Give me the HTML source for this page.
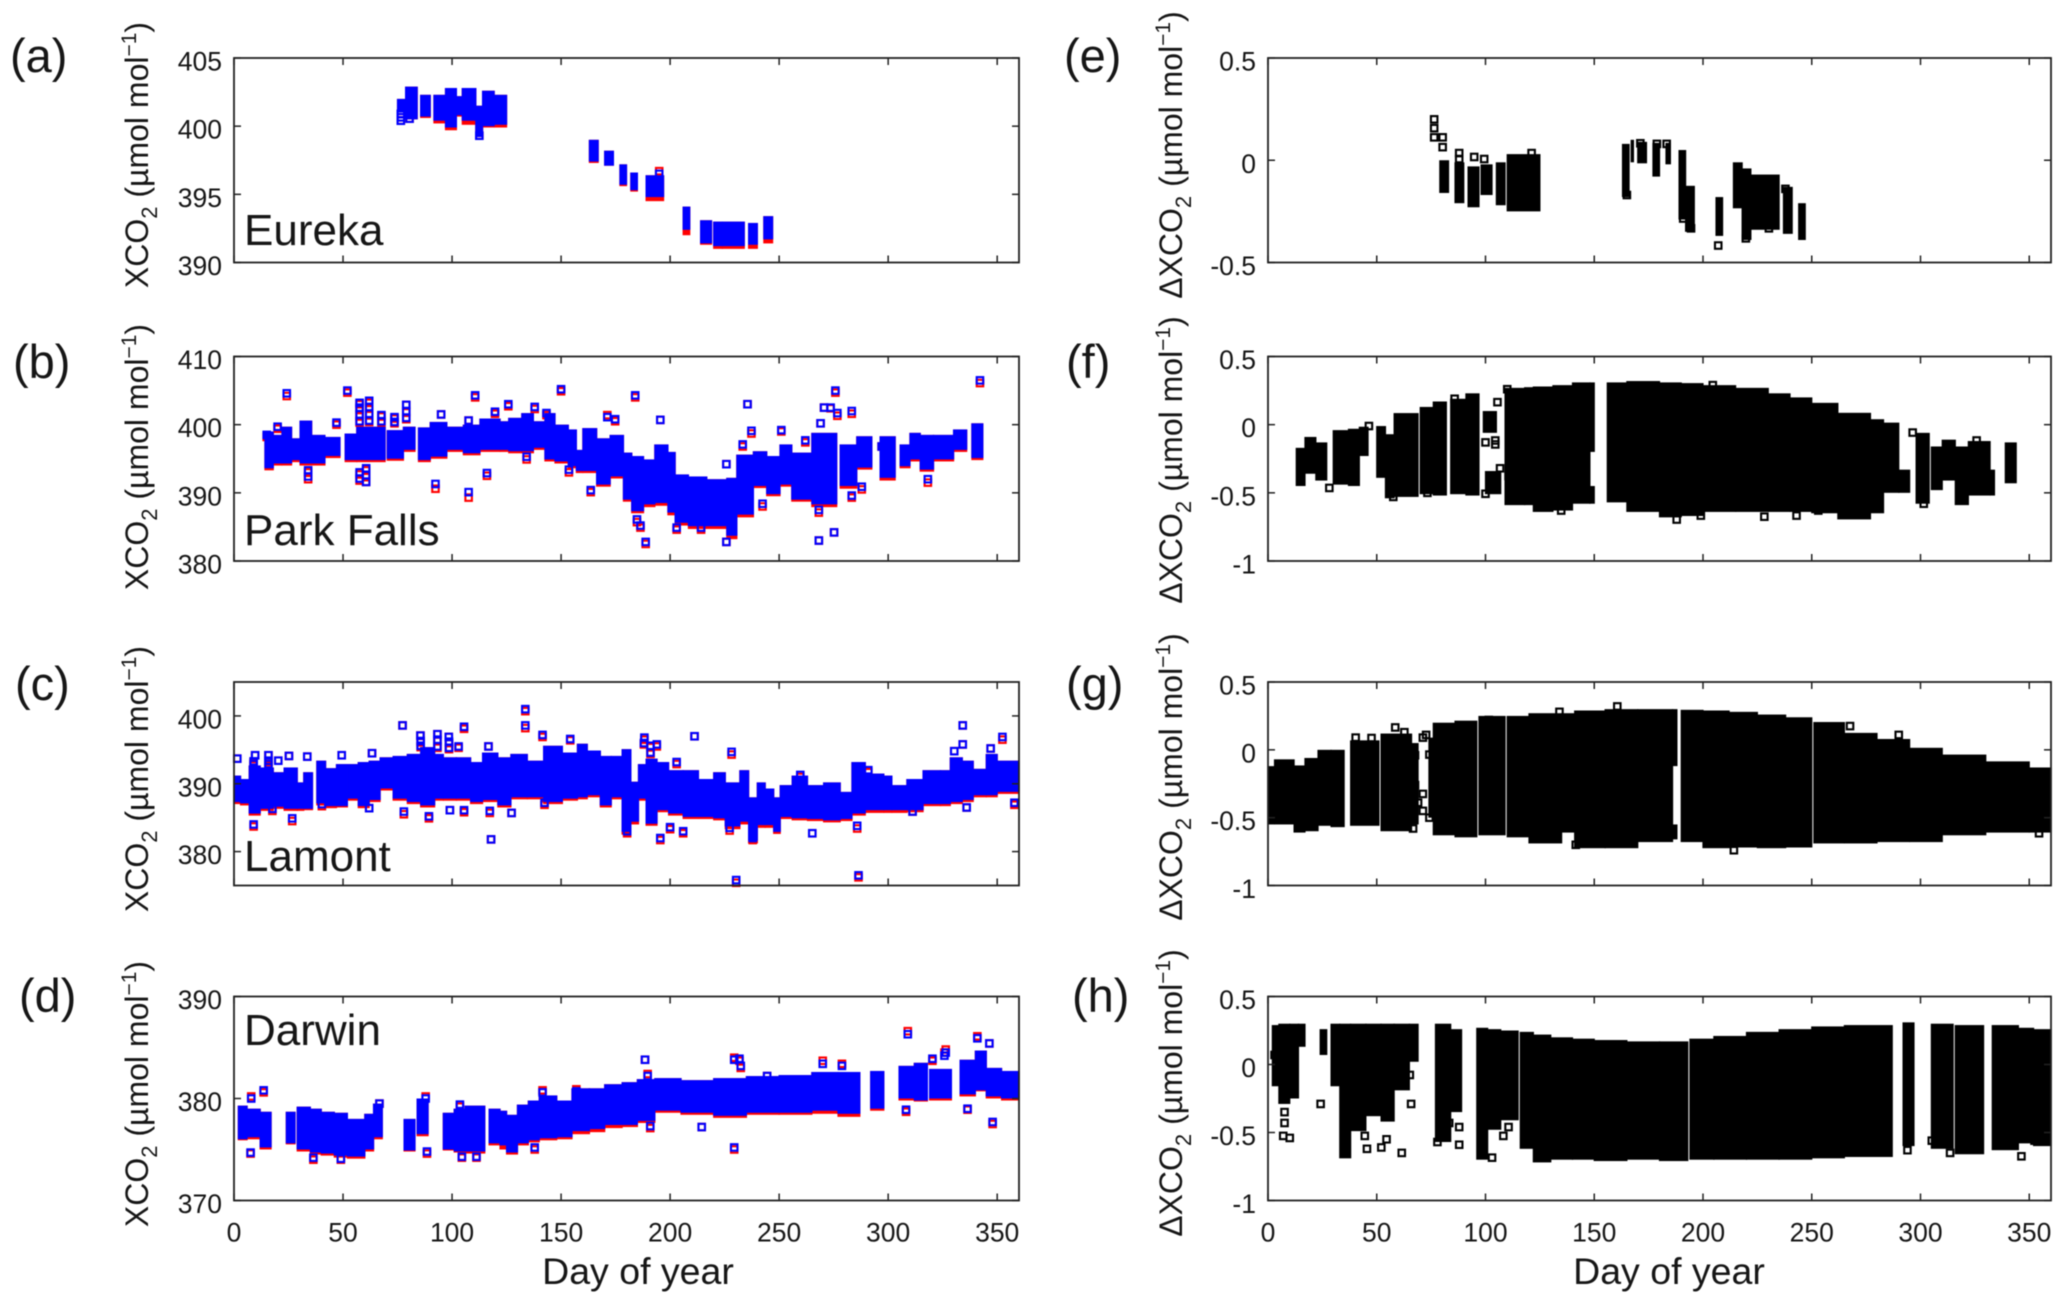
<!DOCTYPE html>
<html lang="en">
<head>
<meta charset="utf-8">
<title>XCO2 and delta XCO2 by day of year at four TCCON sites</title>
<style>
html,body{margin:0;padding:0;background:#fff;}
svg{display:block;filter:blur(0.5px);}
text{font-family:"Liberation Sans",Arial,sans-serif;fill:#161616;}
.tick{font-size:26.5px;}
.letter{font-size:47px;}
.site{font-size:44px;}
.ylab{font-size:32px;}
.xlab{font-size:37.5px;}
</style>
</head>
<body>
<svg id="fig" width="2067" height="1303" viewBox="0 0 2067 1303" xmlns="http://www.w3.org/2000/svg">
<rect x="0" y="0" width="2067" height="1303" fill="#ffffff"/>
<g id="panel-a"></g>
<g id="panel-b"></g>
<g id="panel-c"></g>
<g id="panel-d"></g>
<g id="panel-e"></g>
<g id="panel-f"></g>
<g id="panel-g"></g>
<g id="panel-h"></g>

<text class="letter" x="10" y="72">(a)</text>
<text class="letter" x="13" y="378">(b)</text>
<text class="letter" x="15" y="700">(c)</text>
<text class="letter" x="19" y="1012">(d)</text>
<text class="letter" x="1064" y="72">(e)</text>
<text class="letter" x="1066" y="378">(f)</text>
<text class="letter" x="1066" y="700">(g)</text>
<text class="letter" x="1072" y="1012">(h)</text>

<text class="site" x="244" y="245">Eureka</text>
<text class="site" x="244" y="545">Park Falls</text>
<text class="site" x="244" y="871">Lamont</text>
<text class="site" x="244" y="1045">Darwin</text>

<text class="ylab" text-anchor="middle" transform="translate(148,155) rotate(-90)">XCO<tspan dy="9" font-size="22">2</tspan><tspan dy="-9"> (µmol mol</tspan><tspan dy="-12" font-size="21">−1</tspan><tspan dy="12">)</tspan></text>
<text class="ylab" text-anchor="middle" transform="translate(148,457) rotate(-90)">XCO<tspan dy="9" font-size="22">2</tspan><tspan dy="-9"> (µmol mol</tspan><tspan dy="-12" font-size="21">−1</tspan><tspan dy="12">)</tspan></text>
<text class="ylab" text-anchor="middle" transform="translate(148,779) rotate(-90)">XCO<tspan dy="9" font-size="22">2</tspan><tspan dy="-9">  (µmol mol</tspan><tspan dy="-12" font-size="21">−1</tspan><tspan dy="12">)</tspan></text>
<text class="ylab" text-anchor="middle" transform="translate(148,1094) rotate(-90)">XCO<tspan dy="9" font-size="22">2</tspan><tspan dy="-9">  (µmol mol</tspan><tspan dy="-12" font-size="21">−1</tspan><tspan dy="12">)</tspan></text>
<text class="ylab" text-anchor="middle" transform="translate(1182,155) rotate(-90)">ΔXCO<tspan dy="9" font-size="22">2</tspan><tspan dy="-9"> (µmol mol</tspan><tspan dy="-12" font-size="21">−1</tspan><tspan dy="12">)</tspan></text>
<text class="ylab" text-anchor="middle" transform="translate(1182,460) rotate(-90)">ΔXCO<tspan dy="9" font-size="22">2</tspan><tspan dy="-9"> (µmol mol</tspan><tspan dy="-12" font-size="21">−1</tspan><tspan dy="12">)</tspan></text>
<text class="ylab" text-anchor="middle" transform="translate(1182,777) rotate(-90)">ΔXCO<tspan dy="9" font-size="22">2</tspan><tspan dy="-9">  (µmol mol</tspan><tspan dy="-12" font-size="21">−1</tspan><tspan dy="12">)</tspan></text>
<text class="ylab" text-anchor="middle" transform="translate(1182,1093) rotate(-90)">ΔXCO<tspan dy="9" font-size="22">2</tspan><tspan dy="-9">  (µmol mol</tspan><tspan dy="-12" font-size="21">−1</tspan><tspan dy="12">)</tspan></text>

<text class="xlab" text-anchor="middle" x="638" y="1284">Day of year</text>
<text class="xlab" text-anchor="middle" x="1669" y="1284">Day of year</text>
</svg>

<script>
// ---- Shared axis values ----
const dayTicks = [0, 50, 100, 150, 200, 250, 300, 350];
const ticksA = [390, 395, 400, 405];
const ticksB = [380, 390, 400, 410];
const ticksC = [380, 390, 400];
const ticksD = [370, 380, 390];
const ticksE = [-0.5, 0, 0.5];
const ticksDelta = [-1, -0.5, 0, 0.5];

// ---- (a) Eureka XCO2 ----
const aStart = [75,78.7,85.6,91.7,97,102,104.7,110.9,114,119.3,163,170,177,182,189,206,214,220,224,236,243];
const aEnd   = [78.7,84,90,97,102,104.7,110.9,114,119.3,125,167,174,180,185,197,209,219,224,234,240,247];
const aHigh  = [402,402.9,402.3,402.3,402.8,402.2,402.8,401.5,402.6,402.3,399,398.2,397.2,396.6,396.4,394.1,393.1,393,393,392.9,393.4];
const aLow   = [401,400.5,400.7,400.4,399.9,400.8,400.4,399.2,400,400.1,397.4,397.1,395.7,395.3,394.8,392.4,391.4,391.2,391.2,391.3,391.7];
const aRed   = [401,400.5,400.6,400.2,399.7,400.7,400.1,399.2,399.9,399.9,397.3,397.1,395.6,395.2,394.5,392,391.3,391,391,391,391.4];
const aOutDay = [76.5,76.5,76.5,112.5,80.5,195];
const aOutVal = [400.9,400.65,400.4,399.3,400.55,396.5];
const aOutRed = [400.9,400.65,400.4,399.3,400.55,396.7];

// ---- (b) Park Falls XCO2 ----
const bStart = [14.2,18,22,26.4,30.3,35.6,41.7,51,56.3,70.3,77.7,84.6,90,97.6,105.2,112.8,122,126,132,137.3,142.6,147.2,153.3,157,160,166.3,172.5,178.6,182.4,187.8,193,199,202.3,208.4,216.8,226,230.6,238.2,244.3,250.4,255.8,265,278,285.6,296.3,305.5,310,314.7,320.8,330,338.4];
const bEnd   = [18,22,26.4,30.3,35.6,41.7,48.6,56.3,69.3,77.7,83,90,97.6,105.2,112.8,122,126,132,137.3,142.6,147.2,153.3,157,160,166.3,172.5,178.6,182.4,187.8,193,199,202.3,208.4,216.8,226,230.6,238.2,244.3,250.4,255.8,265,276.4,285.6,292.5,303.2,310,314.7,320.8,330,336,343.4];
const bHigh  = [399,398.5,399.7,398,400.6,398.5,398.2,398.7,399.7,399.2,399.7,399.6,400.4,399.7,400,400.9,400.5,401,401.7,400.5,401.7,400,399.3,396.3,399.5,398,398.5,395.9,395.4,394.9,397.1,396,392.7,392.4,392,392.2,395.6,396.1,395.4,397.1,395.9,398.8,397.1,398.3,398.3,397.1,398.8,398.5,398.5,399.3,400.2];
const bLow   = [393.6,394.3,394.3,394.8,394.3,394.3,395.4,394.8,394.8,395,396.3,394.8,395.3,396.3,395.8,396.3,396.3,396.1,396.1,396.6,394.9,394.6,393.9,393.2,393.2,391.2,392.4,389,387.3,388.3,388.5,387.1,385.6,385.1,385.1,383.7,386.8,391,389.8,391.2,389,388.3,391,393.7,392.2,393.9,394.9,393.4,394.9,396.3,395.1];
const bRed   = [393.3,394,394,394.5,394,394,395.1,394.5,394.5,394.7,396,394.5,395,396,395.5,396,396,395.8,395.8,396.3,394.6,394.3,393.6,392.9,392.9,390.9,392.1,388.7,387,387.9,388.1,386.7,385.2,384.7,384.7,383.2,386.4,390.7,389.5,390.9,388.7,387.9,390.6,393.4,391.8,393.6,394.6,393.1,394.6,396,394.8];
const bOutDay = [24.2,52,47,20,34,60.6,92.4,95,57.6,62,79,73.6,67.6,107.6,116,110.6,107.6,119.7,125.8,137.9,150,134.2,143.3,163.6,153.6,171.2,174.8,184,195.5,235.5,237.3,251,275.8,262,270.6,273.6,283.3,276.7,269,184.8,186.4,188.8,203,214.2,225.8,268.2,275.2,268.2,242.4,283.3,287.9,297,318.2,342.1,225.8,233.3,15,57.6,57.6,57.6,62,62,62,79,79,67.6,73.6,34,57.6,57.6,60.6,60.6];
const bOutVal = [404.6,405,400.3,399.7,392.4,391.6,391.3,401.5,403.2,403.5,402.9,401.1,401.4,390.1,392.9,404.3,400.6,401.9,403,402.6,405.2,395.3,401.7,390.4,393.4,401.1,400.8,404.3,400.7,403,399.1,399.2,405,397.7,402.5,402.5,402,401.7,400.2,386.1,385.2,382.8,384.9,384.9,382.8,383,384.2,387.5,388.4,389.6,390.9,396.8,392,406.5,394.2,397.1,398.5,402.5,401.5,400.5,402.6,401.6,400.6,402,401,400.5,400.4,393.3,393,392.1,392.6,393.6];
const bOutRed = [404.2,404.7,400,399.4,392,391.6,390.6,401.5,403,403.2,402.9,400.9,401.2,389.3,392.5,404,400.6,401.6,402.7,402.3,404.9,394.9,401.4,390.1,393,401.4,400.5,404,400.7,403,398.7,399,404.7,397.4,402.5,402.4,401.6,401.3,400.2,385.7,384.9,382.5,384.6,384.6,382.8,383,384.2,387.1,388,389.3,390.5,396.8,391.5,406.1,394.2,396.8,398.2,402.3,401.2,400.3,402.4,401.4,400.4,401.8,400.8,400.3,400.2,393,392.7,391.8,392.3,393.3];

// ---- (c) Lamont XCO2 ----
const cStart = [0,3,7,12,18,23,29,32,38,42,47,52.5,57,62,67,73,79.5,85.6,92,96,102,108.5,114,121,127,134.5,142,150.6,157.5,162,168,173,178,182,185.5,189,194,199.3,206,213,220,225.3,232,236,240,243.6,247.5,250.5,256,263,270.4,278,283.4,289.5,298,301.7,308.6,316,324,328.5,334,339,345,350];
const cEnd   = [3,7,12,18,23,29,32,36,42,47,52,57,62,67,73,79.5,85.6,92,96,102,108.5,114,121,127,134.5,142,150.6,157.5,162,168,173,178,182,185.5,189,194,199.3,206,213,220,225.3,232,236,240,243.6,247.5,250.5,256,263,270.4,278,283.4,289.5,298,301.7,308.6,316,324,328.5,334,339,345,350,360];
const cHigh  = [391.2,390.7,392.7,392.4,391.7,392.4,390.2,391.7,393.4,392.3,392.9,392.9,393.2,393.4,393.9,394.1,394.4,395.4,394.4,393.9,393.9,393.2,394.6,393.9,394.4,393.4,395.6,394.6,395.9,394.9,394.1,394.1,395.1,390.3,392.9,393.7,393.2,392,392,390.7,391.7,390.2,392,388,390.2,389.3,388,389.8,391.2,389.8,390.2,388.8,393.2,391.5,391.2,389.8,390.7,392,392,393.9,393.4,392.2,394.4,393.4];
const cLow   = [387.3,387.1,385.6,386.3,386.6,386.3,386.3,386.3,387.1,386.7,386.7,387.8,386.7,387.6,389.3,387.8,387.3,386.8,387.8,387.8,387.8,387.3,387.6,386.8,388,388,387.3,387.8,388,388.3,386.8,388,382.9,384.4,387.8,384.1,386.1,385.6,385.1,385.1,384.9,383.7,384.4,381.6,383.9,383.9,382.9,385.1,384.9,384.8,384.6,384.8,385.6,386.1,386.1,386.1,386.1,387,387,387.3,387.6,388.3,388.3,388.8];
const cRed   = [387,386.8,385.3,386,386.3,386,386,386.1,386.8,386.4,386.5,387.5,386.4,387.3,389,387.5,387,386.5,387.5,387.5,387.5,387,387.3,386.5,387.7,387.7,387,387.5,387.7,388,386.5,387.7,382.5,384,387.5,383.8,385.8,385.3,384.8,384.8,384.6,383.3,384,381.2,383.5,383.5,382.6,384.8,384.6,384.5,384.3,384.5,385.3,385.7,385.7,385.7,385.8,386.7,386.7,387,387.3,388,388,388.5];
const cOutDay = [1.5,9.7,15.8,20.3,25.2,33.6,49.4,63.3,77.3,85.5,93.3,98.5,105.5,116.7,133.6,133.6,141.5,154.2,9,17.6,26.7,40.3,62,77.9,89.4,99,105.5,117.3,117.9,127.3,142.4,188.2,193.9,203,211.2,228.2,230.3,286.4,265.2,285.8,195.5,200,206,227.3,334.2,330.3,334.2,352.4,347,336,357.9,311.2,290.9,259.7,180.3,237.9,85.6,85.6,93.3,93.3,98.6,98.6,103,9,9,15.8,15.8,188,191,191];
const cOutVal = [393.7,394.2,394.2,393.4,394.1,394,394.2,394.5,398.6,397.1,397.3,396.9,398.4,395.5,401,398.6,397.2,396.6,384,386.3,384.9,387,386.4,385.9,385.2,386.1,386.1,386,381.8,385.7,387.2,396.8,395.8,393.2,397,394.7,375.8,376.5,382.7,383.8,382,383.6,383,383.5,398.6,394.8,395.8,396.9,395.2,386.5,387.2,385.9,392,391.3,383,382,396.3,395.6,396.5,395.5,396.2,395.3,395.5,392.9,393.3,392.9,393.4,396,395.6,394.6];
const cOutRed = [393.7,394.2,394.2,393.4,394.1,394,394.2,394.5,398.6,397.1,397.3,396.9,398.1,395.5,400.7,398.2,396.9,396.4,383.7,386,384.5,386.7,386.4,385.5,384.9,386.1,385.8,385.7,381.8,385.7,386.9,396.5,395.5,392.9,397,394.3,375.4,376.2,382.7,383.4,381.7,383.3,382.7,383.1,398.6,394.8,395.8,396.5,395.2,386.5,386.9,385.9,391.7,391,382.7,381.7,396.1,395.4,396.3,395.3,396,395.1,395.3,392.7,393.1,392.7,393.2,395.8,395.4,394.4];

// ---- (d) Darwin XCO2 ----
const dStart = [2,6,12,24,29,35,40,46,52,60,64,78,84,96,101,106,117,122,125,130,135,140,148,155,163,170,178,185,193,205,220,235,250,265,277,292,305,312,319,333,340,345,352];
const dEnd   = [6,12,17,28,35,40,46,52,60,64,68,83,89,101,106,115,122,125,130,135,140,148,155,163,170,178,185,193,205,220,235,250,265,277,287,298,312,318,329,340,345,352,360];
const dHigh  = [379.3,379,378.7,378.7,379.2,379,378.7,378.6,378,378.5,379.5,378,380,378.6,379,379.3,379,378.8,378.4,379.4,379.8,380.3,379.8,381,381,381.4,381.6,381.9,382,381.8,382,382.2,382.3,382.6,382.6,382.7,383.2,383.5,382.9,383.8,384.7,383,382.7];
const dLow   = [376,376.2,375.2,375.6,375,374.7,374.6,374.4,374.3,375,376.2,374.9,376.5,375,374.8,374.8,375.6,375.4,374.7,375.6,375.9,376.1,376.2,376.8,377,377.4,377.4,377.8,378.8,378.6,378.3,378.6,378.6,378.8,378.5,379,380,379.8,380,380.4,380.8,380.2,380];
const dRed   = [375.9,376,375,375.5,374.8,374.5,374.4,374.2,374.1,374.8,376,374.8,376.3,374.9,374.7,374.6,375.4,375,374.5,375.4,375.7,375.9,376,376.5,376.7,377.1,377.2,377.6,378.6,378.4,378.1,378.4,378.4,378.5,378.2,378.8,379.8,379.7,379.8,380.2,380.7,380,379.8];
const dOutDay = [7.9,13.6,7.6,36.4,49,87.9,88.5,103.6,104.5,111.2,66.7,141.5,137.9,157,188.5,189.7,190.9,229.4,214.5,229.4,231.8,232.4,270,278.8,309,308.2,326.4,325.8,340.9,346.4,347.9,336.4,320.3,166.7,244.5];
const dOutVal = [380,380.8,374.7,374.2,374.1,380,374.8,379.4,374.3,374.3,379.5,380.6,375.2,380.7,383.8,382.2,377.3,375.2,377.2,383.8,383.9,383.2,383.4,383.2,386.3,378.9,384.5,384.2,385.9,385.4,377.7,379,383.9,380.4,382.2];
const dOutRed = [380.2,380.6,374.6,374,374,380.2,374.6,379.2,374.2,374.2,379.5,380.8,375,380.9,383.8,382.4,377.1,375,377.2,384,383.7,383,383.7,383.4,386.6,378.7,384.8,384.5,386.1,385.4,377.5,378.9,383.7,380.2,382.2];

// ---- (e) Eureka delta ----
const eStart = [79,86,92,98,105,110,163,167,170,177,183,189,192,206,214,218,222,237,244];
const eEnd   = [83,90,97,103,109,125,166,168,174,180,185,192,196,209,218,222,235,241,247];
const eHigh  = [0,-0.01,-0.03,-0.02,-0.01,0.03,0.08,0.1,0.09,0.085,0.085,0.05,-0.125,-0.18,-0.01,-0.04,-0.07,-0.13,-0.21];
const eLow   = [-0.16,-0.21,-0.23,-0.17,-0.22,-0.25,-0.18,-0.01,-0.015,-0.08,-0.02,-0.29,-0.35,-0.37,-0.235,-0.39,-0.34,-0.36,-0.39];
const eOutDay = [76.4,76.4,76.4,80.3,80.3,87.9,87.9,94.8,99.4,207,219.7,225.8,121.2,230.3,237.9,171.2,178.8,183.3,165,190.9,194.5];
const eOutVal = [0.2,0.157,0.112,0.112,0.064,0.035,0.006,0.016,0.006,-0.417,-0.382,-0.304,0.035,-0.333,-0.14,0.083,0.08,0.08,-0.17,-0.285,-0.333];

// ---- (f) Park Falls delta ----
const fStart = [13,17,22,30,37,42,50,54,58,70,76,84,91,99,100,109,118,122,131,140,148,148,156,165,180,190,200,215,230,240,250,262,277,283,290,298,305,310,316,322,332,339];
const fEnd   = [17,22,27,37,42,46,54,58,69,76,82,91,97,105,107,118,122,131,140,148,150,150,165,180,190,200,215,230,240,250,262,277,283,290,295,304,310,316,322,332,334,344];
const fHigh  = [-0.17,-0.09,-0.13,-0.04,-0.03,-0.015,-0.01,-0.07,0.085,0.13,0.17,0.19,0.23,0.1,-0.34,0.27,0.275,0.28,0.29,0.31,0.31,-0.45,0.31,0.32,0.31,0.305,0.29,0.27,0.23,0.2,0.16,0.087,0.04,0.015,-0.33,-0.06,-0.16,-0.11,-0.16,-0.12,-0.33,-0.13];
const fLow   = [-0.45,-0.36,-0.41,-0.44,-0.45,-0.23,-0.39,-0.54,-0.53,-0.51,-0.52,-0.51,-0.52,-0.06,-0.51,-0.59,-0.59,-0.64,-0.63,-0.58,-0.2,-0.58,-0.57,-0.64,-0.68,-0.67,-0.64,-0.64,-0.64,-0.64,-0.65,-0.695,-0.65,-0.5,-0.5,-0.58,-0.48,-0.41,-0.59,-0.52,-0.52,-0.43];
const fOutDay = [28.2,46.4,110,204.5,85.8,296.4,301.5,187.9,228.2,243,253,199,134.8,57.6,73.3,105.5,104.5,104.5,100,110.6,106.7,100,318,325.8];
const fOutVal = [-0.464,-0.01,0.26,0.29,0.19,-0.058,-0.58,-0.696,-0.675,-0.667,-0.63,-0.667,-0.63,-0.53,-0.5,0.165,-0.145,-0.116,-0.13,-0.377,-0.32,-0.507,-0.55,-0.116];

// ---- (g) Lamont delta ----
const gStart = [0,3,12,17,23,29,38,52,66,74,76,86,97,110,120,135,141,155,170,186,186,190,200,212,225,238,251,265,280,295,310,330,350];
const gEnd   = [3,12,17,23,29,35,51,66,69,76,86,96,109,120,135,141,155,170,186,188,188,200,212,225,238,250,265,280,295,310,330,350,360];
const gHigh  = [-0.12,-0.07,-0.115,-0.06,0,0,0.07,0.12,0.05,0.09,0.2,0.215,0.25,0.25,0.27,0.27,0.29,0.3,0.3,0.3,-0.55,0.295,0.29,0.28,0.26,0.24,0.205,0.125,0.08,0.015,-0.035,-0.085,-0.13];
const gLow   = [-0.55,-0.55,-0.61,-0.6,-0.56,-0.57,-0.56,-0.6,-0.55,-0.5,-0.63,-0.645,-0.63,-0.645,-0.69,-0.61,-0.725,-0.725,-0.68,-0.12,-0.66,-0.68,-0.725,-0.72,-0.725,-0.72,-0.69,-0.69,-0.68,-0.68,-0.63,-0.61,-0.61];
const gOutDay = [40.3,47.6,58.5,62.7,58.5,66.7,71.2,72.7,74.2,71.2,71.2,67.6,160.6,101.5,101.5,141.5,214.2,209,267.6,290,134,354.5,67.6,66.7,69,74.2];
const gOutVal = [0.09,0.087,0.165,0.13,-0.565,-0.58,0.09,0.11,-0.035,-0.325,-0.45,-0.26,0.32,0.22,0.03,-0.7,-0.74,-0.68,0.175,0.11,0.28,-0.615,-0.04,-0.13,-0.39,-0.5];

// ---- (h) Darwin delta ----
const hStart = [2,5,10,14,24,29,33,38,45,52,58,65,77,84,96,101,107,116,122,130,140,150,165,180,194,205,220,235,250,265,292,305,316,333,345,352];
const hEnd   = [5,10,14,17,27,33,38,45,52,58,65,69,84,89,101,107,115,122,130,140,150,165,180,193,205,220,235,250,265,287,297,315,329,345,352,360];
const hHigh  = [0.29,0.3,0.3,0.3,0.26,0.3,0.3,0.3,0.3,0.3,0.3,0.3,0.3,0.26,0.27,0.26,0.25,0.24,0.22,0.2,0.19,0.18,0.17,0.17,0.19,0.21,0.24,0.26,0.28,0.29,0.31,0.3,0.29,0.29,0.27,0.26];
const hLow   = [-0.16,-0.29,-0.25,0.13,0.07,-0.16,-0.69,-0.49,-0.38,-0.42,-0.19,0.02,-0.57,-0.35,-0.7,-0.48,-0.41,-0.62,-0.72,-0.7,-0.7,-0.71,-0.7,-0.71,-0.7,-0.7,-0.7,-0.7,-0.69,-0.68,-0.6,-0.62,-0.66,-0.63,-0.58,-0.6];
const hOutDay = [24.2,7.6,7.6,7,10,44.5,45.5,52.1,54.5,61.5,65.8,77.9,83.3,87.9,87.9,103,108.2,110.6,346.4,347,352.4,313.6,305.2,294,3,65.2];
const hOutVal = [-0.29,-0.35,-0.43,-0.525,-0.54,-0.525,-0.62,-0.61,-0.55,-0.65,-0.29,-0.57,-0.43,-0.59,-0.46,-0.685,-0.525,-0.46,-0.675,-0.51,-0.56,-0.65,-0.56,-0.63,0.07,-0.077];

const SVGNS = 'http://www.w3.org/2000/svg';
const DAY_MAX = 360;
const MARK = 6.5;
const BAND_PAD = 0.6;

function newEl(tag, parent) {
  const el = document.createElementNS(SVGNS, tag);
  parent.appendChild(el);
  return el;
}
function xAxis(day, p) { return p.x0 + (day / DAY_MAX) * (p.x1 - p.x0); }
function yAxis(val, p) { return p.y1 - ((val - p.vMin) / (p.vMax - p.vMin)) * (p.y1 - p.y0); }

function drawBand(p, start, end, high, low, colour, groupName) {
  const g = newEl('g', p.g);
  
  
  for (let i = 0; i < start.length; i++) {
    const r = newEl('rect', g);
    
    
    const xa = xAxis(start[i], p) - BAND_PAD, xb = xAxis(end[i], p) + BAND_PAD;
    const ya = yAxis(high[i], p), yb = yAxis(low[i], p);
    r.setAttribute('x', xa.toFixed(2));
    r.setAttribute('y', ya.toFixed(2));
    r.setAttribute('width', (xb - xa).toFixed(2));
    r.setAttribute('height', (yb - ya).toFixed(2));
    r.setAttribute('fill', colour);
  }
}
function drawMarks(p, days, vals, colour, groupName) {
  const g = newEl('g', p.g);
  
  
  for (let i = 0; i < days.length; i++) {
    const r = newEl('rect', g);
    
    
    r.setAttribute('x', (xAxis(days[i], p) - MARK / 2).toFixed(2));
    r.setAttribute('y', (yAxis(vals[i], p) - MARK / 2).toFixed(2));
    r.setAttribute('width', MARK);
    r.setAttribute('height', MARK);
    r.setAttribute('fill', 'none');
    r.setAttribute('stroke', colour);
    r.setAttribute('stroke-width', '2.1');
  }
}
function drawAxes(p, yTicks, showDayLabels) {
  const g = newEl('g', p.g);
  
  
  const box = newEl('rect', g);
  
  
  box.setAttribute('x', p.x0);
  box.setAttribute('y', p.y0);
  box.setAttribute('width', p.x1 - p.x0);
  box.setAttribute('height', p.y1 - p.y0);
  box.setAttribute('fill', 'none');
  box.setAttribute('stroke', '#222');
  box.setAttribute('stroke-width', '1.8');
  dayTicks.forEach(function (d) {
    const x = xAxis(d, p);
    [[p.y0, p.y0 + 7], [p.y1, p.y1 - 7]].forEach(function (pair) {
      const t = newEl('line', g);
      
      
      t.setAttribute('x1', x);
      t.setAttribute('x2', x);
      t.setAttribute('y1', pair[0]);
      t.setAttribute('y2', pair[1]);
      t.setAttribute('stroke', '#222');
      t.setAttribute('stroke-width', '1.5');
    });
    if (showDayLabels) {
      const lab = newEl('text', g);
      
      
      lab.setAttribute('class', 'tick');
      lab.setAttribute('text-anchor', 'middle');
      lab.setAttribute('x', x);
      lab.setAttribute('y', p.y1 + 41);
      lab.textContent = String(d);
    }
  });
  yTicks.forEach(function (v) {
    const y = yAxis(v, p);
    [[p.x0, p.x0 + 7], [p.x1, p.x1 - 7]].forEach(function (pair) {
      const t = newEl('line', g);
      
      
      t.setAttribute('x1', pair[0]);
      t.setAttribute('x2', pair[1]);
      t.setAttribute('y1', y);
      t.setAttribute('y2', y);
      t.setAttribute('stroke', '#222');
      t.setAttribute('stroke-width', '1.5');
    });
    const lab = newEl('text', g);
    
    
    lab.setAttribute('class', 'tick');
    lab.setAttribute('text-anchor', 'end');
    lab.setAttribute('x', p.x0 - 12);
    lab.setAttribute('y', y + 12.5);
    lab.textContent = String(v);
  });
}
function panel(id, x0, x1, y0, y1, vMin, vMax) {
  return { g: document.getElementById(id), x0: x0, x1: x1, y0: y0, y1: y1, vMin: vMin, vMax: vMax };
}
function xco2Panel(p, start, end, high, low, red, oDay, oVal, oRed, yTicks, labels) {
  drawBand(p, start, end, high, red, '#ff0000', 'red-series-band');
  drawMarks(p, oDay, oRed, '#ff0000', 'red-series-points');
  drawBand(p, start, end, high, low, '#0000ff', 'blue-series-band');
  drawMarks(p, oDay, oVal, '#0000ff', 'blue-series-points');
  drawAxes(p, yTicks, labels);
}
function deltaPanel(p, start, end, high, low, oDay, oVal, yTicks, labels) {
  drawBand(p, start, end, high, low, '#000000', 'delta-band');
  drawMarks(p, oDay, oVal, '#000000', 'delta-points');
  drawAxes(p, yTicks, labels);
}

const LX0 = 234, LX1 = 1019, RX0 = 1268, RX1 = 2051;
xco2Panel(panel('panel-a', LX0, LX1, 58, 262.5, 390, 405), aStart, aEnd, aHigh, aLow, aRed, aOutDay, aOutVal, aOutRed, ticksA, false);
xco2Panel(panel('panel-b', LX0, LX1, 356.5, 561, 380, 410), bStart, bEnd, bHigh, bLow, bRed, bOutDay, bOutVal, bOutRed, ticksB, false);
xco2Panel(panel('panel-c', LX0, LX1, 682, 885.5, 375, 405), cStart, cEnd, cHigh, cLow, cRed, cOutDay, cOutVal, cOutRed, ticksC, false);
xco2Panel(panel('panel-d', LX0, LX1, 996.5, 1200.5, 370, 390), dStart, dEnd, dHigh, dLow, dRed, dOutDay, dOutVal, dOutRed, ticksD, true);
deltaPanel(panel('panel-e', RX0, RX1, 58, 262.5, -0.5, 0.5), eStart, eEnd, eHigh, eLow, eOutDay, eOutVal, ticksE, false);
deltaPanel(panel('panel-f', RX0, RX1, 356.5, 561, -1, 0.5), fStart, fEnd, fHigh, fLow, fOutDay, fOutVal, ticksDelta, false);
deltaPanel(panel('panel-g', RX0, RX1, 682, 885.5, -1, 0.5), gStart, gEnd, gHigh, gLow, gOutDay, gOutVal, ticksDelta, false);
deltaPanel(panel('panel-h', RX0, RX1, 996.5, 1200.5, -1, 0.5), hStart, hEnd, hHigh, hLow, hOutDay, hOutVal, ticksDelta, true);
</script>
</body>
</html>
